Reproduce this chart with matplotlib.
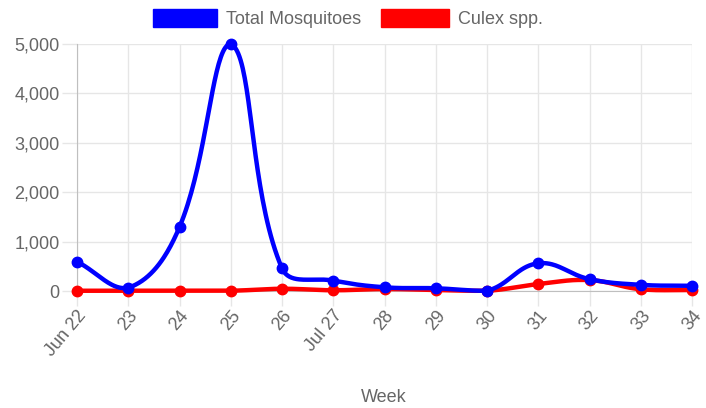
import numpy as np
import matplotlib
matplotlib.use("Agg")
import matplotlib.pyplot as plt
from matplotlib.patches import Rectangle
from matplotlib.ticker import FuncFormatter

plt.rcParams['font.family'] = ['Liberation Sans', 'DejaVu Sans']

weeks = ["Jun 22", "23", "24", "25", "26", "Jul 27", "28", "29", "30", "31", "32", "33", "34"]
total_mosquitoes = [595, 65, 1295, 5000, 460, 210, 75, 55, 5, 560, 240, 125, 105]
culex = [5, 5, 5, 5, 45, 15, 40, 20, 5, 140, 220, 35, 20]
series_labels = ["Total Mosquitoes", "Culex spp."]
series_colors = ["#0000ff", "#ff0000"]
x_title = "Week"

W, H = 706, 408
fig = plt.figure(figsize=(W / 100, H / 100), dpi=100)
L, R, T, B = 77, 692, 44, 291
ax = fig.add_axes([L / W, 1 - B / H, (R - L) / W, (B - T) / H])

xs = np.arange(len(weeks))
ax.set_xlim(0, len(weeks) - 1)
ax.set_ylim(0, 5000)

grid_c = '#e6e6e6'
ax.set_xticks(xs)
ax.set_xticklabels(weeks, rotation=50, ha='right', va='top', rotation_mode='anchor')
ax.set_yticks(np.arange(0, 5001, 1000))
ax.yaxis.set_major_formatter(FuncFormatter(lambda v, p: f"{int(v):,}"))
ax.grid(True, color=grid_c, linewidth=1, alpha=1)
ax.set_axisbelow(True)
for s in ['top', 'right']:
    ax.spines[s].set_visible(False)
ax.spines['left'].set_color('#bfbfbf')
ax.spines['bottom'].set_color('#bfbfbf')
ax.tick_params(axis='both', color=grid_c, labelcolor='#666666', labelsize=13,
               length=10.5, width=1)
ax.tick_params(axis='y', pad=2)
ax.tick_params(axis='x', pad=1)

fig.canvas.draw()


def chartjs_curve(xv, yv, t=0.4):
    pts = ax.transData.transform(np.column_stack([xv, yv]))
    n = len(pts)
    cp_prev = np.zeros_like(pts)
    cp_next = np.zeros_like(pts)
    bb = ax.bbox
    for i in range(n):
        cur = pts[i]
        prev = pts[i - 1] if i > 0 else cur
        nxt = pts[i + 1] if i < n - 1 else cur
        d01 = np.hypot(*(cur - prev))
        d12 = np.hypot(*(nxt - cur))
        tot = d01 + d12
        s01 = d01 / tot if tot else 0
        s12 = d12 / tot if tot else 0
        fa, fb = t * s01, t * s12
        cp_prev[i] = cur - fa * (nxt - prev)
        cp_next[i] = cur + fb * (nxt - prev)
    for arr in (cp_prev, cp_next):
        arr[:, 1] = np.clip(arr[:, 1], bb.y0, bb.y1)
        arr[:, 0] = np.clip(arr[:, 0], bb.x0, bb.x1)
    out = [pts[0]]
    tt = np.linspace(0, 1, 40)[1:, None]
    for i in range(n - 1):
        p0, p1, p2, p3 = pts[i], cp_next[i], cp_prev[i + 1], pts[i + 1]
        seg = ((1 - tt) ** 3) * p0 + 3 * ((1 - tt) ** 2) * tt * p1 + 3 * (1 - tt) * tt ** 2 * p2 + tt ** 3 * p3
        out.extend(seg)
    out = np.array(out)
    return ax.transData.inverted().transform(out)


series = [total_mosquitoes, culex]
for k in [1, 0]:
    vals = series[k]
    c = chartjs_curve(xs, vals)
    ax.plot(c[:, 0], c[:, 1], color=series_colors[k], lw=3.2, clip_on=False,
            solid_capstyle='round', zorder=3 + (1 - k) * 2)
    ax.plot(xs, vals, 'o', color=series_colors[k], ms=7.5, clip_on=False,
            zorder=4 + (1 - k) * 2)

fig.text(384 / W, 1 - 398 / H, x_title, ha='center', va='center', color='#666666', fontsize=13)

# legend
boxes = [(153, 217), (381, 449)]
for (x0, x1), lab, col in zip(boxes, series_labels, series_colors):
    fig.patches.append(Rectangle((x0 / W, 1 - 27 / H), (x1 - x0) / W, 18 / H,
                                 transform=fig.transFigure, facecolor=col,
                                 edgecolor=col, lw=1))
    fig.text((x1 + 9) / W, 1 - 19 / H, lab, ha='left', va='center',
             color='#666666', fontsize=13)

fig.savefig("out.png", dpi=100)
